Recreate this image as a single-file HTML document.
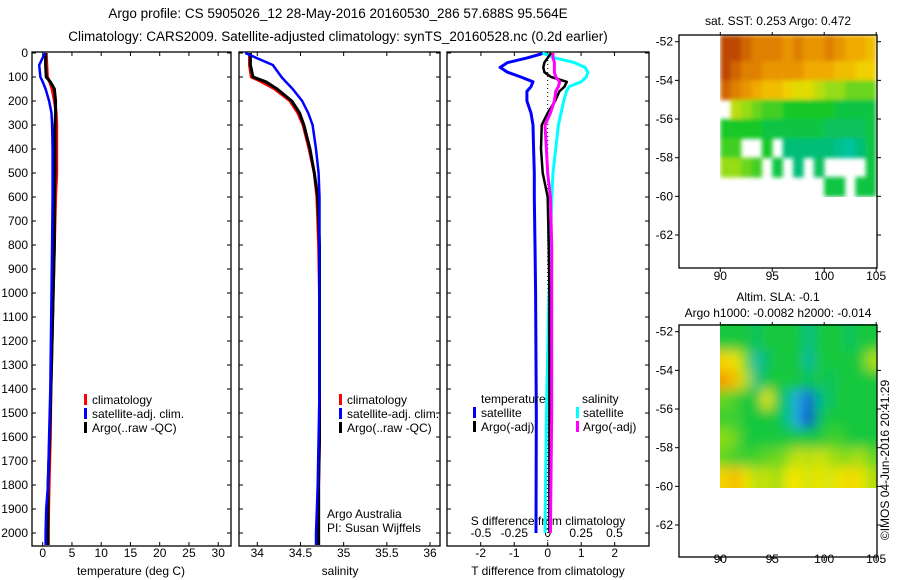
<!DOCTYPE html>
<html><head><meta charset="utf-8"><style>
body{margin:0;background:#fff;}
svg{display:block;font-family:"Liberation Sans",sans-serif;}
text{font-size:12px;fill:#000;}
</style></head><body>
<svg id="fig" width="900" height="580" viewBox="0 0 900 580" xmlns="http://www.w3.org/2000/svg">
<defs>
<filter id="blur1" x="0" y="0" width="1" height="1"><feGaussianBlur stdDeviation="2"/></filter>
<filter id="blur2" x="0" y="0" width="1" height="1"><feGaussianBlur stdDeviation="6"/></filter>
<clipPath id="clip2"><rect x="720" y="324" width="157" height="164"/></clipPath>
</defs>
<text x="338" y="18" text-anchor="middle" style="font-size:13.5px">Argo profile: CS 5905026_12 28-May-2016 20160530_286 57.688S 95.564E</text>
<text x="338" y="41" text-anchor="middle" style="font-size:13.5px">Climatology: CARS2009. Satellite-adjusted climatology: synTS_20160528.nc (0.2d earlier)</text>
<g id="g"></g>
</svg>
<script>
// ---------- data ----------
const depths = [0,50,100,120,150,200,250,300,400,500,600,800,1000,1200,1400,1600,1800,1900,2000,2050];
const climT  = [0.6,0.7,0.8,1.2,1.6,2.0,2.3,2.4,2.4,2.4,2.2,2.0,1.8,1.6,1.4,1.3,1.1,1.0,0.95,0.95];
const satT   = [0.4,-0.6,-0.4,0.0,0.5,1.1,1.5,1.6,1.7,1.7,1.7,1.6,1.5,1.4,1.3,1.1,0.9,0.6,0.5,0.5];
const argoT  = [0.5,0.5,0.6,1.3,2.0,2.2,2.2,2.1,2.1,2.1,2.0,2.0,1.8,1.6,1.4,1.2,0.9,0.9,0.9,0.9];
const climS  = [33.91,33.91,33.93,34.05,34.20,34.38,34.47,34.53,34.60,34.66,34.69,34.71,34.72,34.72,34.72,34.72,34.71,34.71,34.71,34.71];
const satS   = [33.86,34.18,34.28,34.33,34.41,34.52,34.59,34.64,34.68,34.71,34.72,34.72,34.72,34.72,34.72,34.71,34.70,34.69,34.68,34.68];
const argoS  = [33.92,33.92,33.95,34.10,34.23,34.40,34.49,34.54,34.61,34.66,34.70,34.72,34.72,34.72,34.72,34.72,34.71,34.71,34.71,34.71];
const diffDepths = [0,20,40,60,80,100,120,140,160,200,250,300,400,500,600,800,1000,1500,2000];
const dT_sat  = [-0.1,-0.6,-1.2,-1.42,-1.2,-0.8,-0.44,-0.5,-0.62,-0.62,-0.5,-0.44,-0.42,-0.4,-0.4,-0.38,-0.36,-0.34,-0.35];
const dT_argo = [0.1,0.0,-0.1,-0.13,-0.1,0.1,0.57,0.5,0.35,0.22,0.0,-0.18,-0.2,-0.15,0.0,0.03,0.05,0.05,0.05];
const dS_sat  = [-0.04,0.05,0.2,0.28,0.30,0.29,0.25,0.16,0.14,0.12,0.1,0.08,0.06,0.04,0.03,0.02,0.01,-0.01,-0.02];
const dS_argo = [0.04,0.04,0.05,0.05,0.05,0.06,0.09,0.08,0.06,0.05,0.02,-0.02,-0.01,0.0,0.02,0.03,0.03,0.03,0.02];
const depthTicks = [0,100,200,300,400,500,600,700,800,900,1000,1100,1200,1300,1400,1500,1600,1700,1800,1900,2000];
const tTicks = [0,5,10,15,20,25,30];
const sTicks = [34,34.5,35,35.5,36];
const sTickLabels = ["34","34.5","35","35.5","36"];
const dTTicks = [-2,-1,0,1,2];
const dSTicks = [-0.5,-0.25,0,0.25,0.5];
const dSTickLabels = ["-0.5","-0.25","0","0.25","0.5"];
const latTicks = [-52,-54,-56,-58,-60,-62];
const lonTicks = [90,95,100,105];
const sstRows = [-52,-53,-54,-55,-56,-57,-58,-59];
const sstGrid = [
 [.95,.95,.9,.85,.85,.85,.8,.85,.8,.8,.85,.8,.75,.75,.7],
 [.95,.9,.85,.85,.8,.8,.8,.8,.75,.75,.75,.7,.7,.65,.65],
 [.9,.85,.8,.75,.7,.7,.65,.6,.6,.55,.5,.5,.45,.45,.45],
 [null,.55,.5,.45,.4,.4,.35,.35,.35,.35,.35,.3,.3,.3,.3],
 [.35,.35,.35,.35,.3,.3,.3,.3,.3,.3,.25,.25,.25,.25,.3],
 [.4,.4,null,null,.35,null,.2,.2,.2,.2,.2,.15,.1,.2,.3],
 [.5,.5,.45,.4,null,.3,null,.2,null,.25,null,null,null,null,.3],
 [null,null,null,null,null,null,null,null,null,null,.3,.3,null,.3,.3]];
const slaRows = [-52,-53,-54,-55,-56,-57,-58,-59];
const slaGrid = [
 [.4,.4,.4,.35,.4,.4,.4,.4,.3,.4,.4,.4,.35,.4,.4],
 [.75,.7,.5,.25,.35,.4,.4,.4,.25,.4,.4,.4,.4,.4,.6],
 [.9,.8,.6,.3,.4,.4,.4,.4,.35,.4,.35,.4,.4,.4,.4],
 [.5,.45,.4,.4,.7,.4,.3,.15,.05,.3,.35,.4,.4,.4,.4],
 [.45,.45,.4,.4,.4,.4,.3,.15,.0,.35,.4,.4,.4,.4,.4],
 [.55,.5,.4,.4,.4,.4,.4,.4,.4,.4,.45,.45,.4,.4,.4],
 [.5,.45,.45,.45,.5,.5,.55,.65,.6,.65,.6,.55,.55,.6,.5],
 [.75,.85,.7,.6,.65,.55,.7,.7,.65,.7,.65,.7,.75,.7,.6]];

// ---------- helpers ----------
const NS="http://www.w3.org/2000/svg";
const G=document.getElementById('g');
function mk(tag,attrs,parent){const e=document.createElementNS(NS,tag);for(const k in attrs)e.setAttribute(k,attrs[k]);(parent||G).appendChild(e);return e;}
const Y0=53, KY=0.24, PT=52, PB=546;
const yD = d => Y0 + d*KY;
const xT = v => 42.7 + v*5.85;
const xS = v => 257.3 + (v-34)*86.35;
const xDT = v => 547.7 + v*33.5;
const xDS = v => 547.7 + v*133.5;
const latY1 = l => 41.7 + (-52-l)*19.33;
const latY2 = l => 331.7 + (-52-l)*19.33;
const lonX = l => 720.3 + (l-90)*10.39;

function profile(xs,vals,dep,fx,color,w,name){
  let d='';
  for(let i=0;i<vals.length;i++){
    const x=fx(vals[i]).toFixed(1), y=yD(Math.min(dep[i],2054)).toFixed(1);
    d+=(i===0?'M':' L')+x+' '+y;
  }
  const p=mk('path',{d:d,fill:'none',stroke:color,'stroke-width':w,'stroke-linejoin':'round'});
  
  
}
function frame(x0,x1,name){
  const r=mk('rect',{x:x0,y:PT,width:x1-x0,height:PB-PT,fill:'none',stroke:'#000','stroke-width':1.3});
  
  
  depthTicks.forEach(d=>{
    mk('line',{x1:x0,x2:x0+4,y1:yD(d),y2:yD(d),stroke:'#000'});
    mk('line',{x1:x1,x2:x1-4,y1:yD(d),y2:yD(d),stroke:'#000'});
  });
}
function xticks(x0,ticks,labels,fx,ylab,top){
  ticks.forEach((t,i)=>{
    const x=fx(t);
    mk('line',{x1:x,x2:x,y1:PB,y2:PB-4,stroke:'#000'});
    if(top) mk('line',{x1:x,x2:x,y1:PT,y2:PT+4,stroke:'#000'});
    const tx=mk('text',{x:x,y:ylab,'text-anchor':'middle'});tx.textContent=labels[i];
    
    
  });
}
function txt(x,y,s,name,anchor,size){
  const t=mk('text',{x:x,y:y,'text-anchor':anchor||'start'});
  if(size) t.setAttribute('style','font-size:'+size+'px');
  t.textContent=s;
  
  
  return t;
}
function legendBar(x,y,color){
  const r=mk('rect',{x:x,y:y-10,width:3,height:11,fill:color});
  
  
}

// ---------- panel 1: temperature ----------
frame(32,231,'temperature-panel');
depthTicks.forEach(d=>{txt(28,yD(d)+4,String(d),'y-tick-label','end');});
xticks(32,tTicks,tTicks.map(String),xT,557,true);
txt(131,575,'temperature (deg C)','x-axis-title-temperature','middle');
profile(0,climT,depths,xT,'#f00',3,'climatology-temperature-line');
profile(0,argoT,depths,xT,'#000',3,'argo-temperature-line');
profile(0,satT,depths,xT,'#00f',2.5,'satellite-temperature-line');
legendBar(84,404,'#f00');txt(92,404,'climatology','legend-entry-climatology');
legendBar(84,418,'#00f');txt(92,418,'satellite-adj. clim.','legend-entry-satellite');
legendBar(84,432,'#000');txt(92,432,'Argo(..raw -QC)','legend-entry-argo');

// ---------- panel 2: salinity ----------
frame(239,440,'salinity-panel');
xticks(239,sTicks,sTickLabels,xS,557,true);
txt(340,575,'salinity','x-axis-title-salinity','middle');
profile(0,climS,depths,xS,'#f00',3,'climatology-salinity-line');
profile(0,argoS,depths,xS,'#000',3,'argo-salinity-line');
profile(0,satS,depths,xS,'#00f',2.5,'satellite-salinity-line');
legendBar(339,404,'#f00');txt(347,404,'climatology','legend-entry-climatology-s');
legendBar(339,418,'#00f');txt(347,418,'satellite-adj. clim.','legend-entry-satellite-s');
legendBar(339,432,'#000');txt(347,432,'Argo(..raw -QC)','legend-entry-argo-s');
txt(327,518,'Argo Australia','credit-argo-australia');
txt(327,532,'PI: Susan Wijffels','credit-pi');

// ---------- panel 3: differences ----------
frame(447,649,'difference-panel');
mk('line',{x1:xDT(0),x2:xDT(0),y1:PT,y2:PB,stroke:'#000','stroke-dasharray':'1,3'});
xticks(447,dTTicks,dTTicks.map(String),xDT,557,false);
dSTicks.forEach((t,i)=>{const x=xDS(t);mk('line',{x1:x,x2:x,y1:PT,y2:PT+4,stroke:'#000'});txt(x,537,dSTickLabels[i],'s-tick-label','middle');});
txt(548,525,'S difference from climatology','s-axis-title','middle');
txt(548,575,'T difference from climatology','x-axis-title-tdiff','middle');
profile(0,dT_sat,diffDepths,xDT,'#00f',3,'satellite-tdiff-line');
profile(0,dS_sat,diffDepths,xDS,'#0ff',3,'satellite-sdiff-line');
profile(0,dT_argo,diffDepths,xDT,'#000',2.5,'argo-tdiff-line');
profile(0,dS_argo,diffDepths,xDS,'#f0f',3,'argo-sdiff-line');
txt(481,403,'temperature','legend-header-temperature');
txt(582,403,'salinity','legend-header-salinity');
legendBar(473,417,'#00f');txt(481,417,'satellite','legend-entry-t-satellite');
legendBar(473,431,'#000');txt(481,431,'Argo(-adj)','legend-entry-t-argo');
legendBar(576,417,'#0ff');txt(583,417,'satellite','legend-entry-s-satellite');
legendBar(576,431,'#f0f');txt(583,431,'Argo(-adj)','legend-entry-s-argo');

// ---------- maps ----------
function sstColor(v){
  const stops=[[0,[0,200,200]],[0.2,[0,190,120]],[0.35,[20,200,40]],[0.5,[150,220,20]],[0.62,[240,220,0]],[0.75,[240,170,0]],[0.87,[220,120,0]],[1,[170,40,10]]];
  for(let i=1;i<stops.length;i++){if(v<=stops[i][0]){const a=stops[i-1],b=stops[i],f=(v-a[0])/(b[0]-a[0]);return 'rgb('+a[1].map((c,k)=>Math.round(c+(b[1][k]-c)*f)).join(',')+')';}}
  return 'rgb(170,40,10)';
}
function slaColor(v){
  const stops=[[0,[0,40,200]],[0.15,[40,170,230]],[0.3,[0,190,140]],[0.4,[20,200,60]],[0.55,[140,220,20]],[0.7,[240,230,0]],[0.85,[245,180,0]],[1,[240,120,0]]];
  for(let i=1;i<stops.length;i++){if(v<=stops[i][0]){const a=stops[i-1],b=stops[i],f=(v-a[0])/(b[0]-a[0]);return 'rgb('+a[1].map((c,k)=>Math.round(c+(b[1][k]-c)*f)).join(',')+')';}}
  return 'rgb(240,120,0)';
}
function mapFrame(top,bottom,latY,name,labelY){
  const r=mk('rect',{x:679,y:top,width:198,height:bottom-top,fill:'none',stroke:'#000','stroke-width':1.3});
  
  
  latTicks.forEach(l=>{const y=latY(l);mk('line',{x1:679,x2:675,y1:y,y2:y,stroke:'#000'});mk('line',{x1:877,x2:881,y1:y,y2:y,stroke:'#000'});txt(673,y+4,String(l),'lat-tick-label','end');});
  lonTicks.forEach(l=>{const x=lonX(l);mk('line',{x1:x,x2:x,y1:bottom,y2:bottom+4,stroke:'#000'});mk('line',{x1:x,x2:x,y1:top,y2:top-3,stroke:'#000'});txt(x,labelY,String(l),'lon-tick-label','middle');});
}
const g1=mk('g',{filter:'url(#blur1)'});


sstRows.forEach((lat,r)=>{
  sstGrid[r].forEach((v,c)=>{
    if(v===null) return;
    const y0=r===0?35:latY1(lat), y1=latY1(lat-1);
    const cell=mk('rect',{x:lonX(90+c),y:y0,width:10.6,height:y1-y0+0.5,fill:sstColor(v)},g1);
    
    
  });
});
mapFrame(35,268,latY1,'sst-map',280);
txt(778,25,'sat. SST: 0.253 Argo: 0.472','sst-map-title','middle');
const g2=mk('g',{'clip-path':'url(#clip2)'});
const g2b=mk('g',{filter:'url(#blur2)'},g2);


slaRows.forEach((lat,r)=>{
  slaGrid[r].forEach((v,c)=>{
    const y0=latY2(lat)+ (r===0?-20:0), y1=latY2(lat-1)+(r===7?20:0);
    const x0=lonX(90+c)+(c===0?-15:0), w=10.6+(c===0?15:0)+(c===14?15:0);
    const cell=mk('rect',{x:x0,y:y0,width:w,height:y1-y0+0.5,fill:slaColor(v)},g2b);
    
    
  });
});
mapFrame(325,557,latY2,'sla-map',563);
txt(778,301,'Altim. SLA: -0.1','sla-map-title','middle');
txt(778,317,'Argo h1000: -0.0082 h2000: -0.014','sla-map-subtitle','middle');
const cr=txt(0,0,'©IMOS 04-Jun-2016 20:41:29','imos-timestamp','middle');
cr.setAttribute('transform','translate(889,460) rotate(-90)');
</script>
</body></html>
